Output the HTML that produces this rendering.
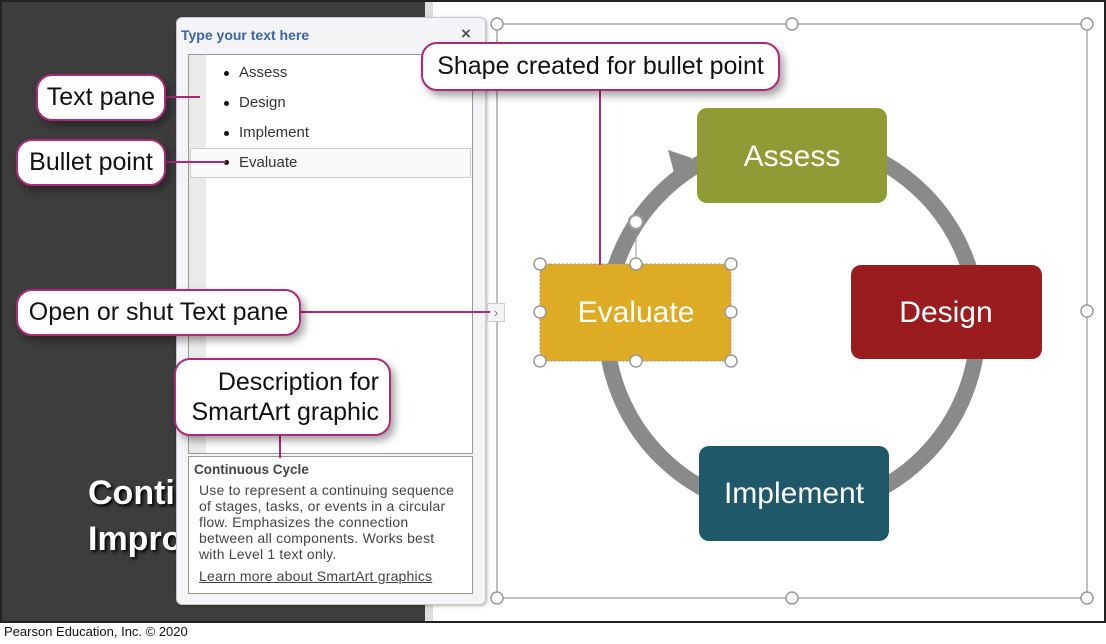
<!DOCTYPE html>
<html><head><meta charset="utf-8"><style>
*{margin:0;padding:0;box-sizing:border-box}
body{width:1106px;height:644px;position:relative;background:#fff;font-family:"Liberation Sans",sans-serif;overflow:hidden}
.a{position:absolute}
.co{position:absolute;background:#fff;border:2px solid #b0287a;border-radius:16px;box-shadow:4px 5px 8px rgba(0,0,0,.35);font-size:25px;color:#111;white-space:nowrap;display:flex;align-items:center;justify-content:center}
.ln{position:absolute;background:#b0287a}
.bl{position:absolute;left:224px;width:5px;height:5px;border-radius:50%;background:#111}
.it{position:absolute;left:239px;font-size:15px;color:#333}
.d{position:absolute;left:199px;font-size:14px;letter-spacing:0.2px;color:#444;white-space:nowrap}
</style></head><body>
<div class="a" style="left:0;top:0;width:1106px;height:623px;border:2px solid #222;background:#fff"></div>
<div class="a" style="left:2px;top:2px;width:423px;height:619px;background:#3d3d3d"></div>
<div class="a" style="left:425px;top:2px;width:8px;height:619px;background:#ddd"></div>
<div class="a" style="left:88px;top:470px;color:#fff;font-weight:bold;font-size:34px;line-height:46px;text-shadow:2px 2px 3px #000">Conti<br>Impro</div>
<svg class="a" style="left:0;top:0" width="1106" height="644">
<rect x="497" y="24" width="590" height="574" fill="none" stroke="#aaa" stroke-width="1.5"/>
<circle cx="792" cy="325" r="186" fill="none" stroke="#8a8a8a" stroke-width="16"/>
<polygon points="668,150 692,158 676,180" fill="#8a8a8a"/>
<rect x="697" y="108" width="190" height="95" rx="10" fill="#8f9c36"/>
<rect x="851" y="265" width="191" height="94" rx="10" fill="#9b1c1f"/>
<rect x="699" y="446" width="190" height="95" rx="10" fill="#1f5869"/>
<rect x="540" y="264" width="191" height="97" rx="10" fill="#deab24" stroke="#b88" stroke-dasharray="2 2"/>
<g fill="#fff" font-family="Liberation Sans,sans-serif" font-size="30" text-anchor="middle">
<text x="792" y="166">Assess</text><text x="946" y="322">Design</text>
<text x="794" y="503">Implement</text><text x="636" y="322">Evaluate</text></g>
<line x1="636" y1="233" x2="636" y2="264" stroke="#999"/>
<circle cx="636" cy="222" r="7" fill="#fff" stroke="#999" stroke-width="2.5"/>
<g fill="#fff" stroke="#999" stroke-width="1.5">
<circle cx="497" cy="24" r="6"/><circle cx="792" cy="24" r="6"/><circle cx="1087" cy="24" r="6"/>
<circle cx="1087" cy="311" r="6"/><circle cx="1087" cy="598" r="6"/><circle cx="792" cy="598" r="6"/><circle cx="497" cy="598" r="6"/>
<circle cx="540" cy="264" r="6"/><circle cx="636" cy="264" r="6"/><circle cx="731" cy="264" r="6"/>
<circle cx="540" cy="312" r="6"/><circle cx="731" cy="312" r="6"/>
<circle cx="540" cy="361" r="6"/><circle cx="636" cy="361" r="6"/><circle cx="731" cy="361" r="6"/></g>
</svg>
<div class="a" style="left:176px;top:17px;width:310px;height:588px;background:#f4f4f7;border:1px solid #c8c8d0;border-radius:6px;box-shadow:1px 1px 3px rgba(0,0,0,.3)"></div>
<div class="a" style="left:181px;top:27px;font-size:14px;font-weight:bold;color:#3b64a8">Type your text here</div>
<div class="a" style="left:461px;top:24px;font-size:17px;font-weight:bold;color:#555">×</div>
<div class="a" style="left:188px;top:54px;width:285px;height:400px;background:#fff;border:1px solid #999"></div>
<div class="a" style="left:189px;top:55px;width:17px;height:398px;background:#eaeaea"></div>
<div class="a" style="left:190px;top:148px;width:281px;height:30px;border:1px solid #ccc;background:#fafafa"></div>
<div class="bl" style="top:71px"></div><div class="it" style="top:64px">Assess</div>
<div class="bl" style="top:101px"></div><div class="it" style="top:94px">Design</div>
<div class="bl" style="top:131px"></div><div class="it" style="top:124px">Implement</div>
<div class="bl" style="top:160px"></div><div class="it" style="top:154px">Evaluate</div>
<div class="a" style="left:188px;top:456px;width:285px;height:138px;background:#fff;border:1px solid #999"></div>
<div class="a" style="left:194px;top:462px;font-size:13.5px;font-weight:bold;color:#444">Continuous Cycle</div>
<div class="d" style="top:482px">Use to represent a continuing sequence</div>
<div class="d" style="top:498px">of stages, tasks, or events in a circular</div>
<div class="d" style="top:514px">flow. Emphasizes the connection</div>
<div class="d" style="top:530px">between all components. Works best</div>
<div class="d" style="top:546px">with Level 1 text only.</div>
<div class="d" style="top:568px;text-decoration:underline">Learn more about SmartArt graphics</div>
<div class="a" style="left:487px;top:303px;width:18px;height:19px;background:#f4f4f4;border:1px solid #ccc;font-size:13px;color:#777;text-align:center;line-height:17px">›</div>
<div class="ln" style="left:165px;top:96px;width:35px;height:2px"></div>
<div class="ln" style="left:165px;top:161px;width:61px;height:2px"></div>
<div class="ln" style="left:300px;top:311px;width:190px;height:2px"></div>
<div class="ln" style="left:279px;top:434px;width:2px;height:24px"></div>
<div class="ln" style="left:599px;top:90px;width:2px;height:175px"></div>
<div class="co" style="left:36px;top:74px;width:130px;height:47px">Text pane</div>
<div class="co" style="left:16px;top:139px;width:150px;height:47px">Bullet point</div>
<div class="co" style="left:16px;top:289px;width:285px;height:47px">Open or shut Text pane</div>
<div class="co" style="left:174px;top:358px;width:217px;height:78px;line-height:30px;text-align:right;justify-content:flex-end;padding-right:10px">Description for<br>SmartArt graphic</div>
<div class="co" style="left:421px;top:42px;width:359px;height:49px">Shape created for bullet point</div>
<div class="a" style="left:4px;top:624px;font-size:13px;color:#111">Pearson Education, Inc. © 2020</div>
</body></html>
